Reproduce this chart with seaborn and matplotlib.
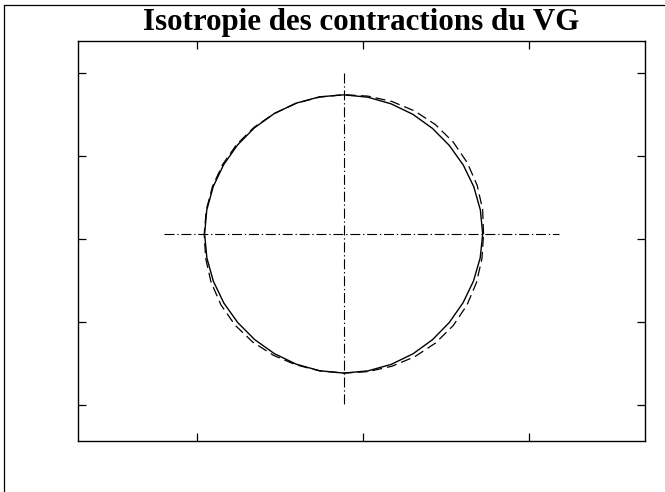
import numpy as np
import matplotlib
matplotlib.use("Agg")
import matplotlib.pyplot as plt
from matplotlib.lines import Line2D
import seaborn as sns

# Left-ventricle contour: polar samples (degrees, radius) about the centre
angles_deg = [0, 10, 20, 30, 40, 50, 60, 70, 80, 90, 100, 110,
              120, 130, 140, 150, 160, 170, 180, 190, 200, 210, 220, 230,
              240, 250, 260, 270, 280, 290, 300, 310, 320, 330, 340, 350]
measured_r = [1.675, 1.672, 1.668, 1.664, 1.662, 1.664, 1.668, 1.672, 1.677, 1.680, 1.681, 1.680,
              1.677, 1.673, 1.670, 1.670, 1.672, 1.674, 1.675, 1.673, 1.670, 1.667, 1.665, 1.666,
              1.669, 1.673, 1.677, 1.680, 1.679, 1.676, 1.671, 1.666, 1.662, 1.661, 1.664, 1.670]
reference_r = [1.685, 1.700, 1.712, 1.720, 1.724, 1.722, 1.714, 1.702, 1.690, 1.682, 1.678, 1.678,
               1.678, 1.680, 1.682, 1.682, 1.681, 1.680, 1.680, 1.688, 1.700, 1.708, 1.710, 1.704,
               1.692, 1.682, 1.678, 1.680, 1.688, 1.700, 1.712, 1.720, 1.722, 1.716, 1.704, 1.692]
centre = (-0.23, 0.06)

# Cross-hair through the centre
hline_x = [-2.40, 2.36]
vline_y = [2.00, -2.00]

x_ticks = [-2, 0, 2]
y_ticks = [-2, -1, 0, 1, 2]

title = "Isotropie des contractions du VG"


def contour_xy(radii):
    a = np.deg2rad(angles_deg + [angles_deg[0]])
    r = np.array(radii + [radii[0]])
    return centre[0] + r * np.cos(a), centre[1] + r * np.sin(a)


sns.set_theme(style="white")
plt.rcParams["font.family"] = ["Liberation Serif", "DejaVu Serif"]

fig = plt.figure(figsize=(6.65, 4.92), dpi=100)
ax = fig.add_axes([78 / 665, 1 - 441 / 492, 567 / 665, 400 / 492])

mx, my = contour_xy(measured_r)
rx, ry = contour_xy(reference_r)
sns.lineplot(x=mx, y=my, sort=False, estimator=None, ax=ax,
             color="black", linewidth=1.0)
sns.lineplot(x=rx, y=ry, sort=False, estimator=None, ax=ax,
             color="black", linewidth=0.9, linestyle=(0, (8, 4)))

dashdot = (0, (9, 2.5, 1.2, 2.5))
sns.lineplot(x=hline_x, y=[centre[1]] * 2, ax=ax, color="black",
             linewidth=0.8, linestyle=dashdot)
sns.lineplot(x=[centre[0]] * 2, y=vline_y, sort=False, estimator=None, ax=ax,
             color="black", linewidth=0.8, linestyle=dashdot)

ax.set_xlim(-3.43, 3.40)
ax.set_ylim(-2.44, 2.39)
ax.set_xticks(x_ticks)
ax.set_yticks(y_ticks)
ax.set_xticklabels([])
ax.set_yticklabels([])
ax.tick_params(direction="in", length=6, width=0.9, color="black",
               top=True, right=True, bottom=True, left=True)
for s in ax.spines.values():
    s.set_color("black")
    s.set_linewidth(1.0)

fig.text(0.5 * (78 + 645) / 665, 1 - 30 / 492, title, ha="center", va="baseline",
         fontsize=22.3, fontweight="bold", color="black")

# page frame on the left and top edges
fig.add_artist(Line2D([4 / 665, 4 / 665], [0, 1 - 5 / 492], transform=fig.transFigure,
                      color="black", linewidth=0.9))
fig.add_artist(Line2D([4 / 665, 1], [1 - 5 / 492, 1 - 5 / 492], transform=fig.transFigure,
                      color="black", linewidth=0.9))

fig.savefig("out.png", dpi=100, facecolor="white")
